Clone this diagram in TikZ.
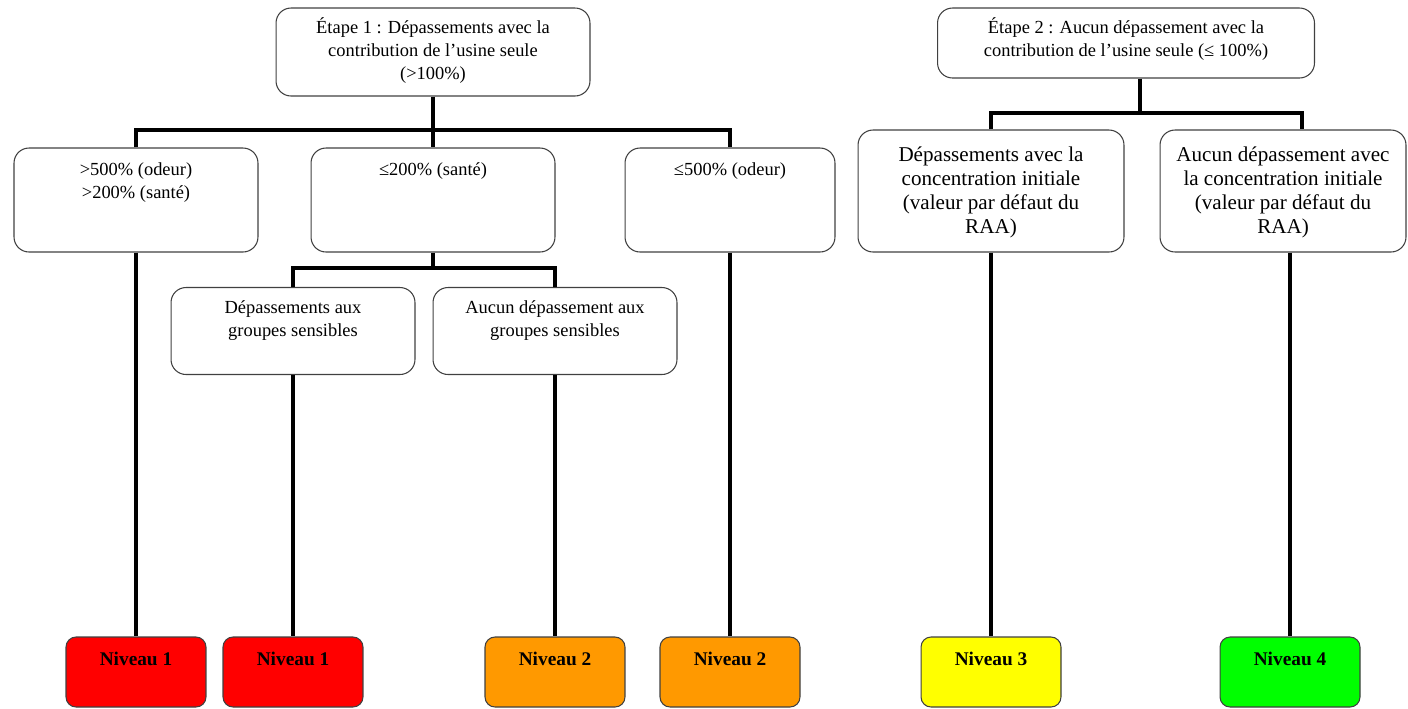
\documentclass[tikz,border=0pt]{standalone}
\usepackage{fontspec}
\setmainfont{Liberation Serif}
\usepackage{tikz}

% text placed near the top of a box of fixed size
\newcommand{\cadre}[4]{\parbox[c][#2][t]{#1}{\vspace*{#3}\centering\strut #4\par}}

\definecolor{rouge}{HTML}{FF0000}
\definecolor{orange}{HTML}{FF9900}
\definecolor{jaune}{HTML}{FFFF00}
\definecolor{vert}{HTML}{00FF00}

\begin{document}
\begin{tikzpicture}[x=0.02cm,y=-0.02cm,
   box/.style={draw=black!75,line width=0.6pt,rounded corners=0.3cm,
      inner sep=0,font=\fontsize{10.5}{13}\selectfont},
   grand/.style={box,font=\fontsize{12}{13.6}\selectfont},
   niveau/.style={box,rounded corners=0.2cm,
      font=\fontsize{11}{13}\selectfont\bfseries},
   lien/.style={line width=2.2pt}]
   \useasboundingbox (0,0) rectangle (1408,708);

   \node[box] (E1) at (433,52)
   {\cadre{6.28cm}{1.76cm}{5.6pt}{Étape 1 : Dépassements avec la\\
   contribution de l'usine seule\\ (>100\%)}};
   \node[box] (E2) at (1126,43)
   {\cadre{7.54cm}{1.4cm}{5.6pt}{Étape 2 : Aucun dépassement avec la\\
   contribution de l'usine seule (≤ 100\%)}};

   \node[box] (A) at (136,200)
   {\cadre{4.88cm}{2.08cm}{6.8pt}{>500\% (odeur)\\ >200\% (santé)}};
   \node[box] (B) at (433,200)
   {\cadre{4.88cm}{2.08cm}{6.8pt}{≤200\% (santé)}};
   \node[box] (C) at (730,200)
   {\cadre{4.2cm}{2.08cm}{6.8pt}{≤500\% (odeur)}};
   \node[grand] (D) at (991,191)
   {\cadre{5.32cm}{2.44cm}{8.5pt}{Dépassements avec la\\
   concentration initiale\\ (valeur par défaut du\\ RAA)}};
   \node[grand] (F) at (1283,191)
   {\cadre{4.92cm}{2.44cm}{8.5pt}{Aucun dépassement avec\\
   la concentration initiale\\ (valeur par défaut du\\ RAA)}};

   \node[box] (G) at (293,331)
   {\cadre{4.88cm}{1.74cm}{5.6pt}{Dépassements aux\\ groupes sensibles}};
   \node[box] (H) at (555,331)
   {\cadre{4.88cm}{1.74cm}{5.6pt}{Aucun dépassement aux\\ groupes sensibles}};

   \node[niveau,fill=rouge] (N1a) at (136,672)
   {\cadre{2.8cm}{1.4cm}{7.3pt}{Niveau 1}};
   \node[niveau,fill=rouge] (N1b) at (293,672)
   {\cadre{2.8cm}{1.4cm}{7.3pt}{Niveau 1}};
   \node[niveau,fill=orange] (N2a) at (555,672)
   {\cadre{2.8cm}{1.4cm}{7.3pt}{Niveau 2}};
   \node[niveau,fill=orange] (N2b) at (730,672)
   {\cadre{2.8cm}{1.4cm}{7.3pt}{Niveau 2}};
   \node[niveau,fill=jaune] (N3) at (991,672)
   {\cadre{2.8cm}{1.4cm}{7.3pt}{Niveau 3}};
   \node[niveau,fill=vert] (N4) at (1290,672)
   {\cadre{2.8cm}{1.4cm}{7.3pt}{Niveau 4}};

   % branches
   \coordinate (b1) at (433,130);
   \coordinate (b2) at (1140,113);
   \coordinate (f2) at (1302,113);
   \coordinate (b3) at (433,268);
   \draw[lien] (E1.south) -- (b1) -- (B.north);
   \draw[lien] (A.north) |- (b1) -| (C.north);
   \draw[lien] (E2.south -| b2) -- (b2);
   \draw[lien] (D.north) |- (f2) -- (f2 |- F.north);
   \draw[lien] (B.south) -- (b3);
   \draw[lien] (G.north) |- (b3) -| (H.north);

   % vers les niveaux
   \draw[lien] (A.south) -- (N1a.north);
   \draw[lien] (G.south) -- (N1b.north);
   \draw[lien] (H.south) -- (N2a.north);
   \draw[lien] (C.south) -- (N2b.north);
   \draw[lien] (D.south) -- (N3.north);
   \draw[lien] (F.south -| N4.north) -- (N4.north);
\end{tikzpicture}
\end{document}
